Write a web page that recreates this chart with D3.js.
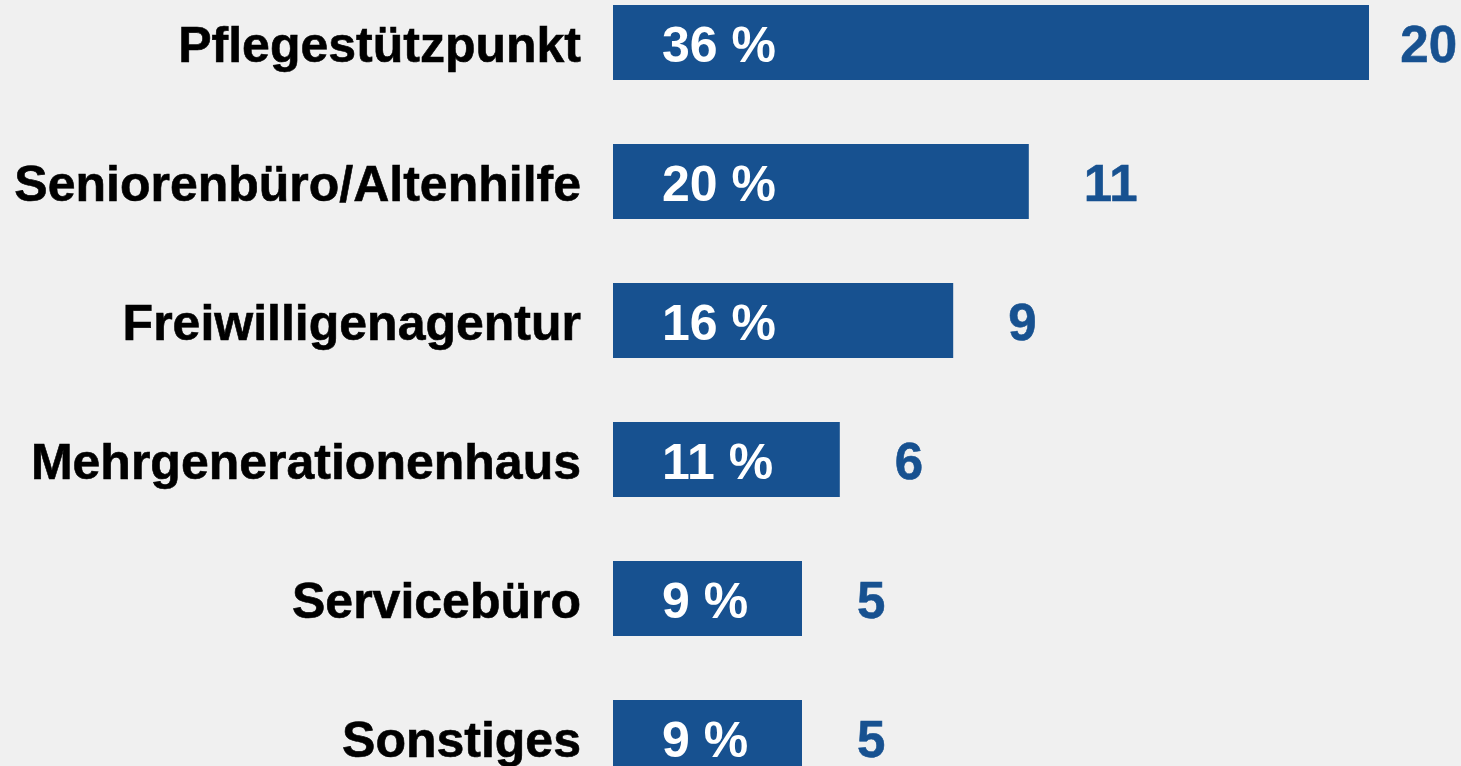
<!DOCTYPE html>
<html>
<head>
<meta charset="utf-8">
<script src="https://cdn.jsdelivr.net/npm/d3@7"></script>
<style>
  html, body { margin: 0; padding: 0; background: #f0f0f0; }
  svg { display: block; }
  text { font-family: "Liberation Sans", Arial, sans-serif; font-weight: bold; }
</style>
</head>
<body>
<div id="chart"></div>
<script>
// data
var categories = ["Pflegestützpunkt", "Seniorenbüro/Altenhilfe", "Freiwilligenagentur",
                  "Mehrgenerationenhaus", "Servicebüro", "Sonstiges"];
var counts = [20, 11, 9, 6, 5, 5];
var percents = [36, 20, 16, 11, 9, 9];

var w = 1461;
var h = 766;
var blue = "#175190";

var svg = d3.select("#chart")
    .append("svg")
    .attr("width", w)
    .attr("height", h);

svg.append("rect")
    .attr("width", w)
    .attr("height", h)
    .attr("fill", "#f0f0f0");

var x = d3.scaleLinear()
    .domain([0, 20])
    .range([613, 1369]);

var y = d3.scaleBand()
    .domain(categories)
    .range([5, 775])
    .paddingInner(64 / 139)
    .paddingOuter(0);

var rows = categories.map(function(c, i) {
    return {name: c, count: counts[i], pct: percents[i]};
});

var g = svg.selectAll("g.row")
    .data(rows)
    .enter()
    .append("g")
    .attr("class", "row");

//bars
g.append("rect")
    .attr("x", x(0))
    .attr("y", function(d) { return y(d.name); })
    .attr("width", function(d) { return x(d.count) - x(0); })
    .attr("height", y.bandwidth())
    .attr("fill", blue);

var base = function(d) { return y(d.name) + y.bandwidth() / 2 + 19.5; };

//category labels
g.append("text")
    .attr("x", 581)
    .attr("y", base)
    .attr("text-anchor", "end")
    .attr("font-size", 50)
    .attr("fill", "#000")
    .attr("stroke", "#000")
    .attr("stroke-width", 0.6)
    .text(function(d) { return d.name; });

//percent inside bar
g.append("text")
    .attr("x", x(0) + 49)
    .attr("y", base)
    .attr("font-size", 50)
    .attr("fill", "#fff")
    .text(function(d) { return d.pct + " %"; });

//count to the right, kept inside the picture
g.append("text")
    .attr("y", base)
    .attr("font-size", 51)
    .attr("fill", blue)
    .attr("stroke", blue)
    .attr("stroke-width", 0.6)
    .text(function(d) { return d.count; })
    .attr("x", function(d) {
        var tw = this.getComputedTextLength();
        return Math.min(x(d.count) + 55, w - 4 - tw);
    });
</script>
</body>
</html>
